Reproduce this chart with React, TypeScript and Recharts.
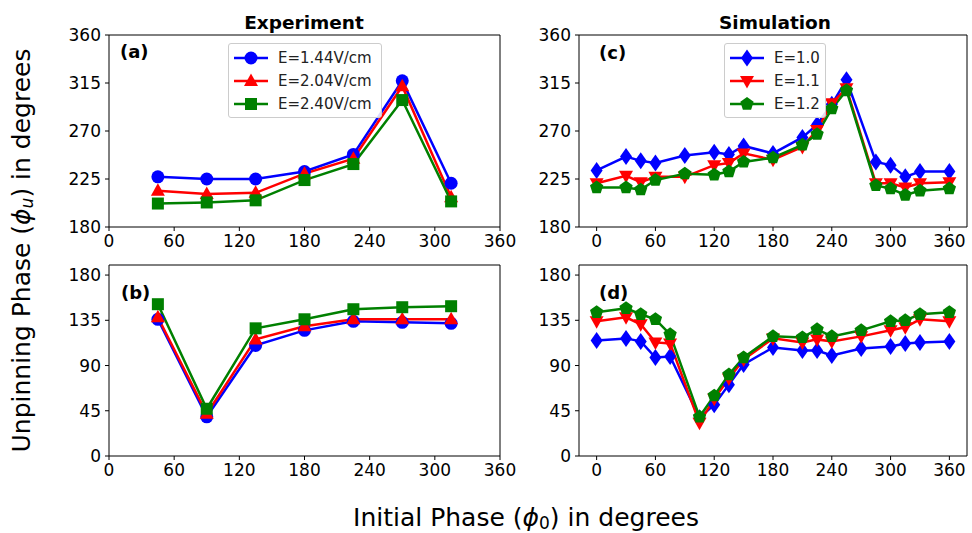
import React from 'react';
import { LineChart, Line, XAxis, YAxis, Legend } from 'recharts';

// experiment: initial phase (deg)
const X_EXP = [45, 90, 135, 180, 225, 270, 315];
const EXP_A_144 = [227, 225, 225, 232, 248, 317, 221];
const EXP_A_204 = [214, 211, 212, 230, 244, 312, 208];
const EXP_A_240 = [202, 203, 205, 224, 239, 299, 204];
const EXP_B_144 = [136, 39, 110, 125, 134, 133, 132];
const EXP_B_204 = [138, 42, 116, 129, 136, 136, 136];
const EXP_B_240 = [151, 47, 127, 136, 146, 148, 149];

// simulation
const X_SIM_C = [0, 30, 45, 60, 90, 120, 135, 150, 180, 210, 225, 240, 255, 285, 300, 315, 330, 360];
const SIM_C_10 = [233, 246, 242, 240, 247, 250, 248, 256, 249, 264, 276, 295, 318, 241, 238, 227, 232, 232];
const SIM_C_11 = [221, 228, 222, 227, 227, 238, 240, 249, 243, 255, 271, 296, 310, 221, 221, 217, 221, 222];
const SIM_C_12 = [217, 217, 215, 224, 230, 229, 232, 241, 245, 257, 267, 291, 308, 219, 216, 210, 214, 216];

const X_SIM_D = [0, 30, 45, 60, 75, 105, 120, 135, 150, 180, 210, 225, 240, 270, 300, 315, 330, 360];
const SIM_D_10 = [115, 117, 114, 98, 99, 38, 51, 71, 91, 108, 105, 105, 100, 107, 109, 112, 113, 114];
const SIM_D_11 = [134, 138, 131, 113, 112, 33, 57, 77, 96, 117, 113, 116, 114, 119, 125, 128, 136, 134];
const SIM_D_12 = [143, 147, 141, 136, 121, 39, 60, 81, 98, 119, 118, 126, 119, 125, 134, 135, 141, 143];

const X_TICKS = [0, 60, 120, 180, 240, 300, 360];
const Y_TICKS_TOP = [180, 225, 270, 315, 360];
const Y_TICKS_BOT = [0, 45, 90, 135, 180];

const EXP_NAMES = ['E=1.44V/cm', 'E=2.04V/cm', 'E=2.40V/cm'];
const SIM_NAMES = ['E=1.0', 'E=1.1', 'E=1.2'];
const COLORS = ['#0000ff', '#ff0000', '#008000'];
const EXP_SHAPES = ['o', '^', 's'];
const SIM_SHAPES = ['d', 'v', 'p'];

const FONT = '"DejaVu Sans", sans-serif';
const Y_W = 60;
const X_H = 30;
const M_TOP = 9; // + 1px top frame axis
const M_RIGHT = 24; // room for the last tick label

function drawMarker(shape: string, color: string, cx: number, cy: number, key?: any) {
  if (cx == null || cy == null || isNaN(cx) || isNaN(cy)) return <g key={key} />;
  switch (shape) {
    case 'o':
      return <circle key={key} cx={cx} cy={cy} r={6.5} fill={color} />;
    case '^':
      return <polygon key={key} points={`${cx},${cy - 7.5} ${cx - 7},${cy + 5} ${cx + 7},${cy + 5}`} fill={color} />;
    case 'v':
      return <polygon key={key} points={`${cx - 7},${cy - 5} ${cx + 7},${cy - 5} ${cx},${cy + 7.5}`} fill={color} />;
    case 's':
      return <rect key={key} x={cx - 6} y={cy - 6} width={12} height={12} fill={color} />;
    case 'd':
      return <polygon key={key} points={`${cx},${cy - 8.5} ${cx + 6},${cy} ${cx},${cy + 8.5} ${cx - 6},${cy}`} fill={color} />;
    case 'p': {
      const r = 7;
      const pts = [0, 1, 2, 3, 4].map((k) => {
        const a = -Math.PI / 2 + (k * 2 * Math.PI) / 5;
        return `${cx + r * Math.cos(a)},${cy + r * Math.sin(a)}`;
      }).join(' ');
      return <polygon key={key} points={pts} fill={color} />;
    }
    default:
      return <circle key={key} cx={cx} cy={cy} r={5} fill={color} />;
  }
}

interface SeriesDef { name: string; color: string; shape: string; values: number[]; }

const LegendBox = ({ series, width }: { series: SeriesDef[]; width: number }) => (
  <div style={{
    width, boxSizing: 'border-box', border: '1px solid #cccccc', borderRadius: 3,
    background: 'rgba(255,255,255,0.85)', padding: '2px 0', fontFamily: FONT, fontSize: 15,
  }}>
    {series.map((s) => (
      <div key={s.name} style={{ display: 'flex', alignItems: 'center', height: 23 }}>
        <svg width={44} height={20} style={{ marginLeft: 5, flex: 'none' }}>
          <line x1={0} y1={10} x2={34} y2={10} stroke={s.color} strokeWidth={2.5} />
          {drawMarker(s.shape, s.color, 17, 10)}
        </svg>
        <span style={{ color: '#222' }}>{s.name}</span>
      </div>
    ))}
  </div>
);

interface PanelProps {
  left: number; top: number; plotW: number; plotH: number;
  xDomain: number[]; yDomain: number[]; yTicks: number[];
  xs: number[]; series: SeriesDef[];
  legend?: { left: number; top: number; width: number };
}

const Panel = ({ left, top, plotW, plotH, xDomain, yDomain, yTicks, xs, series, legend }: PanelProps) => {
  const data = xs.map((x, i) => {
    const row: Record<string, number> = { x };
    series.forEach((s, j) => { row[`s${j}`] = s.values[i]; });
    return row;
  });
  const chartLeft = left - Y_W;
  const chartTop = top - M_TOP - 1;
  const tickStyle = { fill: '#000', fontSize: 17, fontFamily: FONT };
  return (
    <div style={{ position: 'absolute', left: chartLeft, top: chartTop }}>
      <LineChart
        width={Y_W + plotW + 1 + M_RIGHT}
        height={M_TOP + 1 + plotH + X_H}
        data={data}
        margin={{ top: M_TOP, right: M_RIGHT, bottom: 0, left: 0 }}
      >
        <XAxis dataKey="x" type="number" domain={xDomain} ticks={X_TICKS} interval={0} height={X_H}
          tickSize={4} tickMargin={4} tick={tickStyle} stroke="#000" allowDataOverflow />
        <XAxis xAxisId="top" orientation="top" type="number" domain={xDomain} height={1}
          tick={false} tickLine={false} stroke="#000" allowDataOverflow />
        <YAxis type="number" domain={yDomain} ticks={yTicks} interval={0} width={Y_W}
          tickSize={4} tickMargin={4} tick={tickStyle} stroke="#000" allowDataOverflow />
        <YAxis yAxisId="right" orientation="right" type="number" domain={yDomain} width={1}
          tick={false} tickLine={false} stroke="#000" allowDataOverflow />
        {series.map((s, j) => (
          <Line
            key={s.name}
            dataKey={`s${j}`}
            name={s.name}
            stroke={s.color}
            strokeWidth={2.5}
            dot={(p: any) => drawMarker(s.shape, s.color, p.cx, p.cy, `${s.name}-${p.index}`)}
            activeDot={false}
            isAnimationActive={false}
          />
        ))}
        {legend && (
          <Legend
            layout="vertical"
            align="center"
            verticalAlign="middle"
            wrapperStyle={{ left: legend.left - chartLeft, top: legend.top - chartTop, width: legend.width }}
            content={() => <LegendBox series={series} width={legend.width} />}
          />
        )}
      </LineChart>
    </div>
  );
};

const mk = (names: string[], shapes: string[], vals: number[][]): SeriesDef[] =>
  names.map((name, i) => ({ name, color: COLORS[i], shape: shapes[i], values: vals[i] }));

const tagStyle = (left: number, top: number): React.CSSProperties => ({
  position: 'absolute', left, top, fontFamily: FONT, fontWeight: 'bold', fontSize: 18, color: '#000', lineHeight: '18px',
});

const titleStyle = (center: number): React.CSSProperties => ({
  position: 'absolute', left: center - 100, width: 200, top: 14, textAlign: 'center',
  fontWeight: 'bold', fontSize: 18.5, lineHeight: '18.5px',
});

export default function App() {
  return (
    <div style={{ position: 'absolute', left: 0, top: 0, width: 972, height: 533, background: '#fff', fontFamily: FONT, overflow: 'hidden' }}>
      <div style={titleStyle(304)}>Experiment</div>
      <div style={titleStyle(775)}>Simulation</div>

      <Panel left={109} top={35} plotW={391} plotH={192} xDomain={[0, 360]} yDomain={[180, 360]} yTicks={Y_TICKS_TOP}
        xs={X_EXP} series={mk(EXP_NAMES, EXP_SHAPES, [EXP_A_144, EXP_A_204, EXP_A_240])}
        legend={{ left: 228, top: 43, width: 154 }} />
      <Panel left={109} top={265} plotW={391} plotH={191} xDomain={[0, 360]} yDomain={[0, 190]} yTicks={Y_TICKS_BOT}
        xs={X_EXP} series={mk(EXP_NAMES, EXP_SHAPES, [EXP_B_144, EXP_B_204, EXP_B_240])} />
      <Panel left={579} top={35} plotW={388} plotH={192} xDomain={[-18, 378]} yDomain={[180, 360]} yTicks={Y_TICKS_TOP}
        xs={X_SIM_C} series={mk(SIM_NAMES, SIM_SHAPES, [SIM_C_10, SIM_C_11, SIM_C_12])}
        legend={{ left: 724, top: 43, width: 102 }} />
      <Panel left={579} top={265} plotW={388} plotH={191} xDomain={[-18, 378]} yDomain={[0, 190]} yTicks={Y_TICKS_BOT}
        xs={X_SIM_D} series={mk(SIM_NAMES, SIM_SHAPES, [SIM_D_10, SIM_D_11, SIM_D_12])} />

      <div style={tagStyle(120, 43)}>(a)</div>
      <div style={tagStyle(121, 284)}>(b)</div>
      <div style={tagStyle(599, 44)}>(c)</div>
      <div style={tagStyle(599, 284)}>(d)</div>

      <div style={{ position: 'absolute', left: 276, width: 500, top: 505, textAlign: 'center', fontSize: 25, lineHeight: '25px', whiteSpace: 'nowrap' }}>
        Initial Phase (<i>ϕ</i><sub style={{ fontSize: 17, verticalAlign: -3 }}>0</sub>) in degrees
      </div>
      <div style={{
        position: 'absolute', left: 24, top: 248, width: 440, marginLeft: -220, marginTop: -15, textAlign: 'center',
        fontSize: 25, whiteSpace: 'nowrap', transform: 'rotate(-90deg)', lineHeight: '30px',
      }}>
        Unpinning Phase (<i>ϕ</i><sub style={{ fontSize: 17, verticalAlign: -3, fontStyle: 'italic' }}>u</sub>) in degrees
      </div>
    </div>
  );
}
